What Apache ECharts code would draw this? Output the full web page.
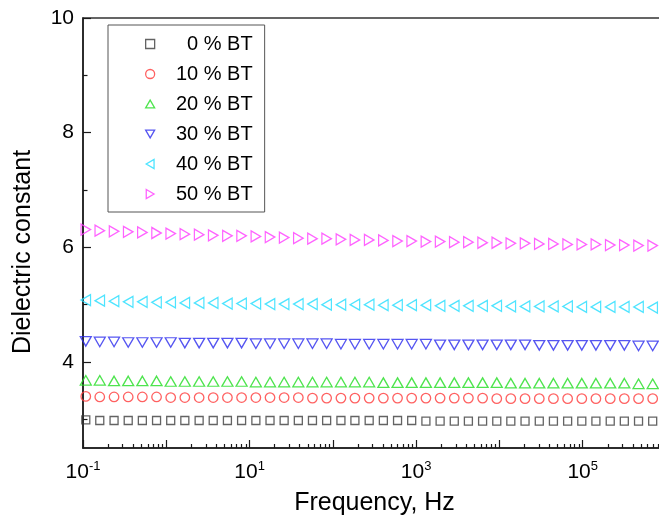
<!DOCTYPE html>
<html>
<head>
<meta charset="utf-8">
<script src="https://cdn.jsdelivr.net/npm/echarts@6/dist/echarts.min.js"></script>
<style>
  html, body { margin: 0; padding: 0; background: #fff; }
  #chart { width: 659px; height: 519px; }
</style>
</head>
<body>
<div id="chart"></div>
<script>
// Measurement frequencies (Hz), log-spaced sweep
const frequencyHz = [0.108, 0.159, 0.236, 0.349, 0.516, 0.764, 1.13, 1.67, 2.48, 3.66,
  5.42, 8.02, 11.9, 17.6, 26.0, 38.5, 56.9, 84.2, 125, 184,
  273, 404, 598, 884, 1310, 1940, 2870, 4240, 6280, 9290,
  13700, 20300, 30100, 44500, 65900, 97500, 144000, 214000, 316000, 468000, 692000];

// Dielectric constant for each BT content
const bt0 = [2.99, 2.98, 2.98, 2.98, 2.98, 2.98, 2.98, 2.98, 2.98, 2.98,
  2.98, 2.98, 2.98, 2.98, 2.98, 2.98, 2.98, 2.98, 2.98, 2.98,
  2.98, 2.98, 2.98, 2.98, 2.97, 2.97, 2.97, 2.97, 2.97, 2.97,
  2.97, 2.97, 2.97, 2.97, 2.97, 2.97, 2.97, 2.97, 2.97, 2.97, 2.97];
const bt10 = [3.40, 3.39, 3.39, 3.39, 3.39, 3.39, 3.38, 3.38, 3.38, 3.38,
  3.38, 3.38, 3.38, 3.38, 3.38, 3.38, 3.37, 3.37, 3.37, 3.37,
  3.37, 3.37, 3.37, 3.37, 3.37, 3.37, 3.37, 3.37, 3.37, 3.36,
  3.36, 3.36, 3.36, 3.36, 3.36, 3.36, 3.36, 3.36, 3.36, 3.36, 3.36];
const bt20 = [3.68, 3.68, 3.67, 3.67, 3.67, 3.67, 3.66, 3.66, 3.66, 3.66,
  3.66, 3.66, 3.65, 3.65, 3.65, 3.65, 3.65, 3.65, 3.65, 3.65,
  3.65, 3.64, 3.64, 3.64, 3.64, 3.64, 3.64, 3.64, 3.64, 3.64,
  3.63, 3.63, 3.63, 3.63, 3.63, 3.63, 3.63, 3.63, 3.63, 3.62, 3.62];
const bt30 = [4.36, 4.35, 4.35, 4.34, 4.34, 4.34, 4.34, 4.33, 4.33, 4.33,
  4.33, 4.33, 4.32, 4.32, 4.32, 4.32, 4.32, 4.32, 4.31, 4.31,
  4.31, 4.31, 4.31, 4.31, 4.31, 4.30, 4.30, 4.30, 4.30, 4.30,
  4.30, 4.30, 4.29, 4.29, 4.29, 4.29, 4.29, 4.29, 4.29, 4.28, 4.28];
const bt40 = [5.08, 5.07, 5.06, 5.05, 5.05, 5.04, 5.04, 5.03, 5.03, 5.03,
  5.02, 5.02, 5.02, 5.01, 5.01, 5.01, 5.01, 5.00, 5.00, 5.00,
  5.00, 4.99, 4.99, 4.99, 4.99, 4.98, 4.98, 4.98, 4.98, 4.98,
  4.97, 4.97, 4.97, 4.97, 4.97, 4.96, 4.96, 4.96, 4.96, 4.96, 4.95];
const bt50 = [6.31, 6.29, 6.28, 6.27, 6.26, 6.25, 6.24, 6.23, 6.22, 6.21,
  6.20, 6.20, 6.19, 6.18, 6.17, 6.16, 6.15, 6.15, 6.14, 6.13,
  6.13, 6.12, 6.11, 6.11, 6.10, 6.10, 6.09, 6.09, 6.08, 6.08,
  6.07, 6.07, 6.06, 6.06, 6.05, 6.05, 6.05, 6.04, 6.04, 6.03, 6.03];

const seriesNames = ['0 % BT', '10 % BT', '20 % BT', '30 % BT', '40 % BT', '50 % BT'];
const seriesValues = [bt0, bt10, bt20, bt30, bt40, bt50];

// Tick layout
const yMajorTicks = [4, 6, 8, 10];
const yMinorTicks = [3, 5, 7, 9];
const xLabelExponents = [-1, 1, 3, 5];

// Marker styling: open square, circle and triangles pointing up / down / left / right
const seriesColors = ['#3c3c3c', '#ff3a3a', '#22dd22', '#2a2aee', '#22ddff', '#ff3cff'];
const seriesSymbols = [
  'rect',
  'circle',
  'path://M5,0L10,8.66L0,8.66Z',
  'path://M0,0L10,0L5,8.66Z',
  'path://M8.66,0L8.66,10L0,5Z',
  'path://M0,0L8.66,5L0,10Z'
];
const symbolSizes = [8, 9.5, [11, 9.5], [11, 9.5], [9.5, 11], [9.5, 11]];

const FONT = '"Liberation Sans", Arial, Helvetica, sans-serif';
const AXIS_COLOR = '#1a1a1a';

// Minor decade ticks (2..9 within each decade), in log10 units
const minorDecadeTicks = [];
for (let d = -1; d < 6; d++) {
  for (let m = 2; m <= 9; m++) minorDecadeTicks.push(d + Math.log10(m));
}

const chart = echarts.init(document.getElementById('chart'), null, { renderer: 'canvas' });

const hollow = i => ({ color: 'rgba(255,255,255,0)', borderColor: seriesColors[i], borderWidth: 1.3 });

const series = seriesNames.map((name, i) => ({
  name: name,
  type: 'scatter',
  xAxisIndex: 0,
  yAxisIndex: 0,
  clip: false,
  symbol: seriesSymbols[i],
  symbolSize: symbolSizes[i],
  itemStyle: hollow(i),
  emphasis: { disabled: true },
  data: frequencyHz.map((f, k) => [f, seriesValues[i][k]])
}));

const option = {
  animation: false,
  backgroundColor: '#fff',
  textStyle: { fontFamily: FONT },
  // The frame runs a little past the right edge of the canvas (up to 10^6 Hz)
  grid: {
    left: 83, top: 18, width: 583, height: 430,
    outerBoundsMode: 'none',
    containLabel: false,
    show: true, borderColor: '#333', borderWidth: 1.5, backgroundColor: 'transparent'
  },
  legend: {
    data: seriesNames.map((n, i) => ({ name: n, icon: seriesSymbols[i], itemStyle: hollow(i) })),
    orient: 'vertical',
    left: 108, top: 25,
    padding: [9, 12, 8, 37],
    itemWidth: 9, itemHeight: 9, itemGap: 10,
    borderColor: '#555', borderWidth: 1,
    selectedMode: false,
    formatter: name => '{t|' + name + '}',
    textStyle: {
      color: '#000', fontFamily: FONT, fontSize: 20,
      rich: { t: { width: 93, align: 'right', fontSize: 20, lineHeight: 20, fontFamily: FONT, color: '#000' } }
    }
  },
  xAxis: [
    {
      type: 'log', logBase: 10, min: 0.1, max: 1e6, splitNumber: 7,
      position: 'bottom',
      axisLine: { show: true, onZero: false, lineStyle: { color: AXIS_COLOR, width: 1.5 } },
      axisTick: { show: true, inside: true, length: 8, lineStyle: { color: AXIS_COLOR, width: 1.2 } },
      splitLine: { show: false },
      axisLabel: {
        interval: 0, margin: 12, color: '#000',
        formatter: v => {
          const e = Math.round(Math.log10(v));
          return xLabelExponents.indexOf(e) >= 0 ? '{b|10}{s|' + e + '}' : '';
        },
        rich: {
          b: { fontSize: 21, fontFamily: FONT, color: '#000' },
          s: { fontSize: 13, fontFamily: FONT, color: '#000', padding: [0, 0, 12, 0] }
        }
      },
      name: 'Frequency, Hz', nameLocation: 'middle', nameGap: 43,
      nameTextStyle: { fontSize: 25, fontFamily: FONT, color: '#000' }
    },
    {
      type: 'value', min: -1, max: 6, position: 'bottom',
      axisLine: { show: false, onZero: false }, axisLabel: { show: false }, splitLine: { show: false },
      axisTick: { show: true, inside: true, length: 4, customValues: minorDecadeTicks,
        lineStyle: { color: AXIS_COLOR, width: 1.2 } }
    }
  ],
  yAxis: [
    {
      type: 'value', min: 2.5, max: 10, position: 'left',
      axisLine: { show: true, onZero: false, lineStyle: { color: AXIS_COLOR, width: 1.5 } },
      axisTick: { show: true, inside: true, length: 8, customValues: yMajorTicks,
        lineStyle: { color: AXIS_COLOR, width: 1.2 } },
      axisLabel: { customValues: yMajorTicks, fontSize: 21, fontFamily: FONT, color: '#000', margin: 9 },
      splitLine: { show: false }
    },
    {
      type: 'value', min: 2.5, max: 10, position: 'left',
      axisLine: { show: false, onZero: false }, axisLabel: { show: false }, splitLine: { show: false },
      axisTick: { show: true, inside: true, length: 4.5, customValues: yMinorTicks,
        lineStyle: { color: AXIS_COLOR, width: 1.2 } }
    }
  ],
  graphic: [{
    type: 'text', x: 23, y: 252, rotation: Math.PI / 2,
    style: { text: 'Dielectric constant', font: '25px ' + FONT, fill: '#000',
      textAlign: 'center', textVerticalAlign: 'middle' }
  }],
  series: series
};

chart.setOption(option);
</script>
</body>
</html>
